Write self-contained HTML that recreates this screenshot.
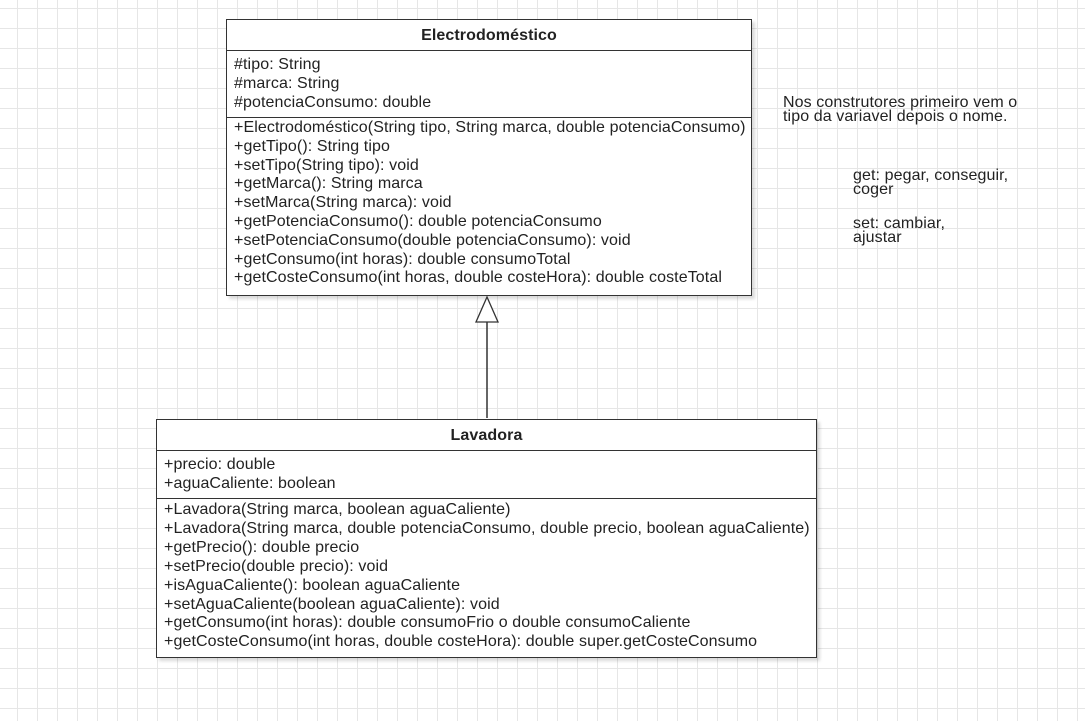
<!DOCTYPE html>
<html><head><meta charset="utf-8"><style>
html,body{margin:0;padding:0}
body{width:1085px;height:721px;position:relative;overflow:hidden;background:#fff;
background-image:linear-gradient(#e6e6e6 1px,transparent 1px),linear-gradient(90deg,#e6e6e6 1px,transparent 1px);
background-size:20px 20px;background-position:17px 8px;font-family:"Liberation Sans",sans-serif;font-size:16px;letter-spacing:0.1px;color:#222}
.box{position:absolute;background:#fff;border:1px solid #333;box-shadow:3px 3px 3px rgba(0,0,0,0.15);box-sizing:border-box}
.hd{font-weight:bold;text-align:center;border-bottom:1px solid #333;box-sizing:border-box}
.sec{padding:0 7px;line-height:19px;box-sizing:border-box;white-space:nowrap}
.bt{border-top:1px solid #333}
.note{position:absolute;font-size:16px;line-height:14px;color:#222;white-space:nowrap}
</style></head><body>
<div class="box" style="left:226px;top:19px;width:526px;height:277px">
<div class="hd" style="height:31px;line-height:32px">Electrodoméstico</div>
<div class="sec" style="height:66px;padding-top:4px">#tipo: String<br>#marca: String<br>#potenciaConsumo: double</div>
<div class="sec bt" style="padding-top:1px;line-height:18.8px">+Electrodoméstico(String tipo, String marca, double potenciaConsumo)<br>+getTipo(): String tipo<br>+setTipo(String tipo): void<br>+getMarca(): String marca<br>+setMarca(String marca): void<br>+getPotenciaConsumo(): double potenciaConsumo<br>+setPotenciaConsumo(double potenciaConsumo): void<br>+getConsumo(int horas): double consumoTotal<br>+getCosteConsumo(int horas, double costeHora): double costeTotal</div>
</div>
<div class="box" style="left:156px;top:419px;width:661px;height:239px">
<div class="hd" style="height:31px;line-height:32px">Lavadora</div>
<div class="sec" style="height:47px;padding-top:4px">+precio: double<br>+aguaCaliente: boolean</div>
<div class="sec bt" style="padding-top:2px;line-height:18.9px">+Lavadora(String marca, boolean aguaCaliente)<br>+Lavadora(String marca, double potenciaConsumo, double precio, boolean aguaCaliente)<br>+getPrecio(): double precio<br>+setPrecio(double precio): void<br>+isAguaCaliente(): boolean aguaCaliente<br>+setAguaCaliente(boolean aguaCaliente): void<br>+getConsumo(int horas): double consumoFrio o double consumoCaliente<br>+getCosteConsumo(int horas, double costeHora): double super.getCosteConsumo</div>
</div>
<svg style="position:absolute;left:0;top:0" width="1085" height="721">
<line x1="487" y1="418" x2="487" y2="322" stroke="#333" stroke-width="1.5"/>
<polygon points="487,297 476,322 498,322" fill="#fff" stroke="#333" stroke-width="1.3"/>
</svg>
<div class="note" style="left:783px;top:96px">Nos construtores primeiro vem o<br>tipo da variavel depois o nome.</div>
<div class="note" style="left:853px;top:169px">get: pegar, conseguir,<br>coger</div>
<div class="note" style="left:853px;top:217px">set: cambiar,<br>ajustar</div>
</body></html>
